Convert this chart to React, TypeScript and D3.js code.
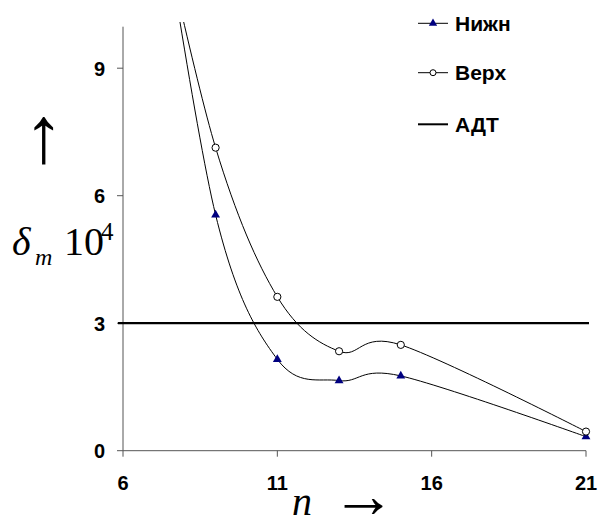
import React from "react";
import * as d3 from "d3";

// Number of elements n and the relative error δm·10^4 for the two bounds
const nValues = [7, 9, 11, 13, 15, 21];
const lowerValues = [14.0, 5.55, 2.15, 1.65, 1.76, 0.33]; // Нижн
const upperValues = [13.2, 7.13, 3.62, 2.34, 2.49, 0.45]; // Верх
const adtLevel = 3; // АДТ
const adtRange = [6, 21];

const xTicks = [6, 11, 16, 21];
const yTicks = [0, 3, 6, 9];
const legendLabels = ["Нижн", "Верх", "АДТ"];

const W = 598;
const H = 517;

const x = d3.scaleLinear().domain([6, 21]).range([123, 586]);
const y = d3.scaleLinear().domain([0, 10]).range([450.7, 25.7]);

const curve = d3
  .line<[number, number]>()
  .x((d) => x(d[0]))
  .y((d) => y(d[1]))
  .curve(d3.curveCardinal.tension(0));

const lowerPts: [number, number][] = nValues.map((n, i) => [n, lowerValues[i]]);
const upperPts: [number, number][] = nValues.map((n, i) => [n, upperValues[i]]);

const triangle = d3.symbol().type(d3.symbolTriangle).size(34)();
const triangleSmall = d3.symbol().type(d3.symbolTriangle).size(30)();

const sans = "'Liberation Sans', Arial, sans-serif";
const serif = "'Liberation Serif', 'Times New Roman', serif";
const axisColor = "#555";

export default function App() {
  const legendY = [23.3, 72.7, 124.3];
  return (
    <svg
      width={W}
      height={H}
      viewBox={`0 0 ${W} ${H}`}
      style={{ position: "absolute", left: 0, top: 0, background: "#fff" }}
    >
      <defs>
        <clipPath id="plot-clip">
          <rect x={100} y={22} width={500} height={440} />
        </clipPath>
      </defs>

      {/* axes */}
      <line x1={x(6)} x2={x(6)} y1={y(0)} y2={y(10) + 1} stroke={axisColor} strokeWidth={1} />
      <line x1={x(6)} x2={x(21)} y1={y(0)} y2={y(0)} stroke={axisColor} strokeWidth={1} />
      {yTicks.map((t) => (
        <g key={`y${t}`}>
          <line x1={x(6) - 6} x2={x(6)} y1={y(t)} y2={y(t)} stroke={axisColor} />
          <text
            x={105}
            y={y(t) + 7.5}
            textAnchor="end"
            fontFamily={sans}
            fontWeight="bold"
            fontSize={20}
          >
            {t}
          </text>
        </g>
      ))}
      {xTicks.map((t) => (
        <g key={`x${t}`}>
          <line x1={x(t)} x2={x(t)} y1={y(0)} y2={y(0) + 6} stroke={axisColor} />
          <text
            x={x(t)}
            y={490}
            textAnchor="middle"
            fontFamily={sans}
            fontWeight="bold"
            fontSize={20}
          >
            {t}
          </text>
        </g>
      ))}

      {/* АДТ level */}
      <line
        x1={x(adtRange[0]) - 5}
        x2={x(adtRange[1]) + 3}
        y1={y(adtLevel)}
        y2={y(adtLevel)}
        stroke="#000"
        strokeWidth={2.2}
      />

      {/* smoothed series */}
      <g clipPath="url(#plot-clip)">
        <path d={curve(lowerPts) ?? ""} fill="none" stroke="#000" strokeWidth={1} />
        <path d={curve(upperPts) ?? ""} fill="none" stroke="#000" strokeWidth={1} />
        {lowerPts
          .filter((p) => p[1] <= 10)
          .map((p, i) => (
            <path
              key={`lt${i}`}
              d={triangle ?? ""}
              transform={`translate(${x(p[0])},${y(p[1])})`}
              fill="#000080"
            />
          ))}
        {upperPts
          .filter((p) => p[1] <= 10)
          .map((p, i) => (
            <circle
              key={`uc${i}`}
              cx={x(p[0])}
              cy={y(p[1])}
              r={3.6}
              fill="#fff"
              stroke="#000"
              strokeWidth={1}
            />
          ))}
      </g>

      {/* legend */}
      {legendLabels.map((lab, i) => (
        <g key={lab}>
          <line
            x1={418}
            x2={448}
            y1={legendY[i]}
            y2={legendY[i]}
            stroke="#000"
            strokeWidth={i === 2 ? 2 : 1}
          />
          {i === 0 && (
            <path d={triangleSmall ?? ""} transform={`translate(433,${legendY[i]})`} fill="#000080" />
          )}
          {i === 1 && (
            <circle cx={433} cy={legendY[i]} r={3} fill="#fff" stroke="#000" />
          )}
          <text
            x={455}
            y={legendY[i] + 7.5}
            fontFamily={sans}
            fontWeight="bold"
            fontSize={21}
          >
            {lab}
          </text>
        </g>
      ))}

      {/* axis titles */}
      <text x={43.5} y={162} textAnchor="middle" fontFamily={serif} fontSize={80}>
        ↑
      </text>
      <text fontFamily={serif} fill="#000">
        <tspan x={12} y={255} fontStyle="italic" fontSize={40}>
          δ
        </tspan>
        <tspan x={35} y={265} fontStyle="italic" fontSize={24}>
          m
        </tspan>
        <tspan x={64} y={255} fontSize={40}>
          10
        </tspan>
        <tspan x={101} y={240} fontSize={25}>
          4
        </tspan>
      </text>
      <text x={292} y={515} fontFamily={serif} fontStyle="italic" fontSize={40}>
        n
      </text>
      <text x={363.5} y={517} textAnchor="middle" fontFamily={serif} fontSize={64}>
        →
      </text>
    </svg>
  );
}
